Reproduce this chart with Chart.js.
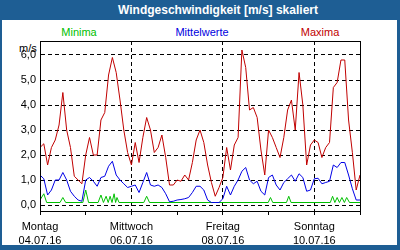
<!DOCTYPE html>
<html>
<head>
<meta charset="utf-8">
<script src="https://cdn.jsdelivr.net/npm/chart.js@4/dist/chart.umd.min.js"></script>
<style>
    body { margin: 0; }
    #frame { position: relative; width: 400px; height: 250px; background: #1e5e94; overflow: hidden;
             font-family: "Liberation Sans", Arial, sans-serif; }
    #title { position: absolute; left: 36px; top: 0; width: 364px; height: 20px; line-height: 20px;
             text-align: center; color: #fff; font-weight: bold; font-size: 12px; }
    #panel { position: absolute; left: 2px; top: 20px; width: 395px; height: 225px; background: #fff; }
    .leg { position: absolute; top: 25px; font-size: 11px; line-height: 14px; transform: translateX(-50%); white-space: nowrap; }
    #unit { position: absolute; left: 19px; top: 41px; font-size: 11px; line-height: 14px; }
    canvas { position: absolute; left: 0; top: 0; }
</style>
</head>
<body>
<div id="frame">
    <div id="title">Windgeschwindigkeit [m/s] skaliert</div>
    <div id="panel"></div>
    <div class="leg" style="left:79px;color:#00c000">Minima</div>
    <div class="leg" style="left:202px;color:#0000e0">Mittelwerte</div>
    <div class="leg" style="left:320px;color:#c00000">Maxima</div>
    <div id="unit">m/s</div>
    <canvas id="windChart" width="400" height="250"></canvas>
</div>
<script>
// x axis: hours since Monday 04.07.16 00:00
var dayNames = ['Montag', 'Dienstag', 'Mittwoch', 'Donnerstag', 'Freitag', 'Samstag', 'Sonntag', 'Montag'];
var dayDates = ['04.07.16', '05.07.16', '06.07.16', '07.07.16', '08.07.16', '09.07.16', '10.07.16', '11.07.16'];
var labelledDays = [0, 2, 4, 6];
var yTicks = [0, 1, 2, 3, 4, 5, 6];

// Maxima + Mittelwerte: one value every 2 hours (0..168)
var maxima = [
    2.3, 2.45, 1.6, 2.3, 2.6, 3.2, 4.5, 3.0, 2.3, 1.15, 1.0, 0.85,
    2.0, 2.7, 2.0, 2.0, 3.4, 3.7, 5.2, 5.9, 5.3, 4.2, 3.0, 2.1,
    1.6, 2.5, 1.7, 2.7, 3.5, 3.0, 2.1, 2.3, 2.8, 1.9, 0.8, 0.8,
    1.0, 0.95, 1.2, 1.0, 1.7, 2.6, 3.0, 2.5, 1.6, 0.9, 0.35, 0.7,
    1.1, 2.3, 1.4, 2.4, 2.7, 6.2, 5.5, 3.8, 3.9, 3.5, 2.2, 1.2,
    3.0, 2.7, 2.3, 1.9, 2.7, 3.8, 4.2, 3.0, 5.3, 4.0, 1.6, 2.4,
    2.6, 2.5, 1.9, 2.3, 2.5, 4.7, 4.9, 5.8, 5.8, 3.4, 2.1, 0.6,
    1.2
];
var mittelwerte = [
    1.2, 1.05, 0.4, 0.6, 1.0, 1.0, 1.3, 1.0, 0.55, 0.35, 0.2, 0.15,
    1.0, 1.1, 0.95, 0.75, 1.1, 1.15, 1.55, 1.75, 1.2, 1.0, 0.85, 0.7,
    0.75, 0.8, 0.5, 0.9, 1.3, 0.8, 0.75, 0.8, 0.7, 0.45, 0.13, 0.15,
    0.2, 0.22, 0.25, 0.3, 0.5, 0.75, 0.75, 0.6, 0.2, 0.1, 0.1, 0.1,
    0.25, 0.75, 0.4, 0.75, 1.0, 1.35, 1.5, 1.0, 0.85, 0.95, 0.55, 0.4,
    1.1, 1.2, 0.8, 0.6, 0.9, 1.05, 1.2, 0.95, 1.25, 1.1, 0.55, 0.6,
    1.05, 1.07, 0.85, 0.9, 0.95, 1.6, 1.5, 1.7, 1.7, 1.2, 0.65, 0.2,
    0.2
];
var hours = maxima.map(function (v, i) { return i * 2; });

// Minima: mostly flat, so only the spikes are listed
var minimaHours = [0, 2, 3.5, 10.5, 12, 13.5, 22.5, 24, 25.5, 30.5, 32, 33.3, 34.7, 35.8, 36.8, 37.8, 38.9, 39.7,
    40.4, 41.5, 54.5, 56, 57.5, 119.8, 121, 122.2, 129.4, 130.6, 131.8, 152.4, 153.6, 154.8, 156, 157.2,
    158.5, 159.8, 161, 162.5, 168];
var minima = [0.2, 0.45, 0.1, 0.1, 0.3, 0.1, 0.1, 0.6, 0.1, 0.1, 0.4, 0.1, 0.35, 0.1, 0.35, 0.1, 0.45, 0.1,
    0.3, 0.1, 0.1, 0.35, 0.1, 0.1, 0.3, 0.1, 0.1, 0.35, 0.1, 0.1, 0.35, 0.1, 0.3, 0.1,
    0.3, 0.1, 0.3, 0.1, 0.1];

function points(xs, ys) {
    return ys.map(function (y, i) { return { x: xs[i], y: y }; });
}

var font = { family: '"Liberation Sans", Arial, sans-serif', size: 11, lineHeight: 1.27 };

// solid frame round the plot area
var plotFrame = {
    id: 'plotFrame',
    afterDatasetsDraw: function (chart) {
        var a = chart.chartArea, ctx = chart.ctx;
        ctx.save();
        ctx.strokeStyle = '#000';
        ctx.lineWidth = 1;
        ctx.strokeRect(a.left + 0.5, a.top + 0.5, a.right - a.left, a.bottom - a.top);
        ctx.restore();
    }
};

new Chart(document.getElementById('windChart').getContext('2d'), {
    type: 'line',
    data: {
        datasets: [{
            label: 'Maxima',
            data: points(hours, maxima),
            borderColor: '#c00000',
            borderWidth: 1
        }, {
            label: 'Mittelwerte',
            data: points(hours, mittelwerte),
            borderColor: '#0000e6',
            borderWidth: 1
        }, {
            label: 'Minima',
            data: points(minimaHours, minima),
            borderColor: '#00c000',
            borderWidth: 1
        }]
    },
    options: {
        responsive: false,
        animation: false,
        events: [],
        elements: { point: { radius: 0 }, line: { tension: 0 } },
        layout: { padding: { top: 41, right: 40, left: 0, bottom: 0 } },
        plugins: { legend: { display: false }, tooltip: { enabled: false } },
        scales: {
            x: {
                type: 'linear',
                min: 0,
                max: 168,
                afterFit: function (s) { s.height = 39; },
                ticks: {
                    stepSize: 24,
                    autoSkip: false,
                    maxRotation: 0,
                    color: '#000',
                    font: font,
                    padding: 5,
                    callback: function (v) {
                        var d = v / 24;
                        return labelledDays.indexOf(d) >= 0 ? [dayNames[d], dayDates[d]] : '';
                    }
                },
                grid: {
                    color: function (c) {
                        var d = c.tick ? c.tick.value / 24 : -1;
                        return (d > 0 && labelledDays.indexOf(d) >= 0) ? '#000' : 'rgba(0,0,0,0)';
                    },
                    tickColor: '#000',
                    tickLength: 4
                },
                border: { color: '#000', dash: [4, 3] }
            },
            y: {
                min: -0.24,
                max: 6.56,
                afterFit: function (s) { s.width = 40; },
                afterBuildTicks: function (s) {
                    s.ticks = yTicks.map(function (v) { return { value: v }; });
                },
                ticks: {
                    color: '#000',
                    font: font,
                    padding: 4,
                    callback: function (v) { return v.toFixed(1).replace('.', ','); }
                },
                grid: { color: '#000', drawTicks: false },
                border: { color: '#000', dash: [4, 3] }
            }
        }
    },
    plugins: [plotFrame]
});
</script>
</body>
</html>
